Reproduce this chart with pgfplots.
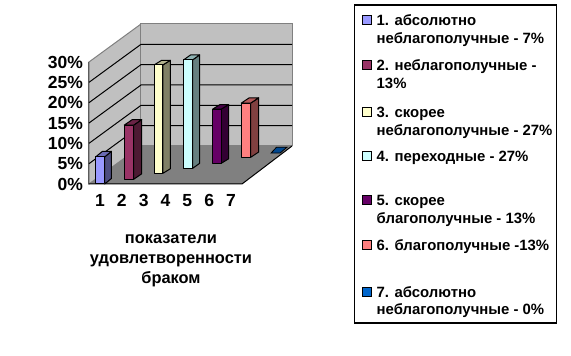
\documentclass[border=0pt]{standalone}
\usepackage{fontspec}
\setmainfont{Liberation Sans}
\usepackage{pgfplots}
\pgfplotsset{compat=1.18}
\definecolor{wall}{HTML}{C0C0C0}
\definecolor{floorc}{HTML}{808080}
\definecolor{edgec}{HTML}{808080}
\definecolor{aF}{HTML}{9999FF}\definecolor{aS}{HTML}{4D4D80}\definecolor{aT}{HTML}{6B6BB3}
\definecolor{bF}{HTML}{993366}\definecolor{bS}{HTML}{4D1A33}\definecolor{bT}{HTML}{6B2447}
\definecolor{cF}{HTML}{FFFFCC}\definecolor{cS}{HTML}{808066}\definecolor{cT}{HTML}{B3B38F}
\definecolor{dF}{HTML}{CCFFFF}\definecolor{dS}{HTML}{668080}\definecolor{dT}{HTML}{8FB3B3}
\definecolor{eF}{HTML}{660066}\definecolor{eS}{HTML}{330033}\definecolor{eT}{HTML}{470047}
\definecolor{fF}{HTML}{FF8080}\definecolor{fS}{HTML}{804040}\definecolor{fT}{HTML}{B35A5A}
\definecolor{gF}{HTML}{0066CC}\definecolor{gT}{HTML}{00478F}
% bar: left px, right px, base px above the front line, value %, depth dx px, depth dy px, front, side, top
\newcommand{\bari}[9]{%
  \pgfmathsetmacro\xa{(#1-89)/21.857}%
  \pgfmathsetmacro\xb{(#2-89)/21.857}%
  \pgfmathsetmacro\ya{#3/4.0667}%
  \pgfmathsetmacro\yb{\ya+#4}%
  \pgfmathsetmacro\xc{\xa+#5/21.857}%
  \pgfmathsetmacro\xd{\xb+#5/21.857}%
  \pgfmathsetmacro\yc{\ya+#6/4.0667}%
  \pgfmathsetmacro\yd{\yb+#6/4.0667}%
  \addplot[draw=black,line width=1pt,line join=round,fill=#8] coordinates {(\xb,\ya) (\xd,\yc) (\xd,\yd) (\xb,\yb)} -- cycle;
  \addplot[draw=black,line width=1pt,line join=round,fill=#9] coordinates {(\xa,\yb) (\xb,\yb) (\xd,\yd) (\xc,\yd)} -- cycle;
  \addplot[draw=black,line width=1pt,line join=round,fill=#7] coordinates {(\xa,\ya) (\xb,\ya) (\xb,\yb) (\xa,\yb)} -- cycle;
}
\newcommand{\legkey}[2]{\path[draw=black,line width=0.8pt,fill=#1] (362pt,{356pt-#2pt-4.5pt}) rectangle (371pt,{356pt-#2pt+4.5pt});}
\newcommand{\legline}[2]{\node[anchor=base west,inner sep=0pt,font=\fontsize{14.9}{14.9}\selectfont\bfseries] at (376.5pt,{356pt-#1pt-5.2pt}) {#2};}
\begin{document}
\begin{tikzpicture}[x=1pt,y=1pt]
\fill[white] (0pt,0pt) rectangle (571pt,356pt);
\begin{axis}[
  at={(89pt,172pt)},anchor=origin,
  scale only axis,width=153pt,height=122pt,
  xmin=0,xmax=7,ymin=0,ymax=30,
  clip=false,
  axis x line*=bottom,axis y line*=left,
  axis line style={black,line width=1pt,-},
  /pgf/number format/assume math mode=true,
  xtick={0.5,1.5,2.5,3.5,4.5,5.5,6.5},
  xticklabels={1,2,3,4,5,6,7},
  minor xtick={0,1,2,3,4,5,6,7},
  ytick={0,5,10,15,20,25,30},
  yticklabels={0\%,5\%,10\%,15\%,20\%,25\%,30\%},
  major tick length=3pt,
  minor tick length=3pt,
  x tick style={draw=none},
  minor x tick style={draw=black,line width=1pt},
  y tick style={black,line width=1pt},
  tick label style={font=\fontsize{17.5}{17.5}\selectfont\bfseries},
  xticklabel style={yshift=-7pt},
  yticklabel style={xshift=-2.5pt},
  xlabel={показатели\\удовлетворенности\\браком},
  xlabel style={at={(axis cs:3.75,-11.6)},anchor=north,align=center,font=\fontsize{16.4}{20}\selectfont\bfseries},
]
% walls and floor
\addplot[draw=edgec,line width=1pt,fill=wall] coordinates {(0,0) (2.379,9.344) (2.379,39.344) (0,30)} -- cycle;
\addplot[draw=edgec,line width=1pt,fill=wall] coordinates {(2.379,9.344) (9.288,9.344) (9.288,39.344) (2.379,39.344)} -- cycle;
\addplot[draw=none,fill=floorc] coordinates {(0,0) (7,0) (9.288,9.344) (2.379,9.344)} -- cycle;
% gridlines
\addplot[black,line width=1pt] coordinates {(0,5) (2.379,14.344) (9.288,14.344)};
\addplot[black,line width=1pt] coordinates {(0,10) (2.379,19.344) (9.288,19.344)};
\addplot[black,line width=1pt] coordinates {(0,15) (2.379,24.344) (9.288,24.344)};
\addplot[black,line width=1pt] coordinates {(0,20) (2.379,29.344) (9.288,29.344)};
\addplot[black,line width=1pt] coordinates {(0,25) (2.379,34.344) (9.288,34.344)};
\addplot[black,line width=1pt] coordinates {(0,0) (7,0) (9.288,9.344)};
% bars, back to front
\addplot[draw=black,line width=0.8pt,fill=gT] coordinates {(8.33,7.6) (8.74,7.6) (9.06,9.05) (8.58,9.05)} -- cycle;
\bari{241.3}{250.7}{26.7}{13.33}{8}{5.3}{fF}{fS}{fT}
\bari{212.7}{221.3}{20.7}{13.33}{7.3}{4.5}{eF}{eS}{eT}
\bari{183.7}{192.7}{15.7}{26.67}{7}{5}{dF}{dS}{dT}
\bari{154.3}{163}{10.7}{26.67}{7.3}{4.5}{cF}{cS}{cT}
\bari{124.3}{133.7}{4.7}{13.33}{8}{5.5}{bF}{bS}{bT}
\bari{95.7}{104.7}{0}{6.67}{6.7}{5.5}{aF}{aS}{aT}
\end{axis}
% legend
\draw[black,line width=1.2pt] (354.5pt,33pt) rectangle (556.5pt,351pt);
\legkey{aF}{20}
\legkey{bF}{65}
\legkey{cF}{112}
\legkey{dF}{156}
\legkey{eF}{200}
\legkey{fF}{245}
\legkey{gF}{292}
\legline{20}{1. абсолютно}
\legline{38}{неблагополучные - 7\%}
\legline{65}{2. неблагополучные -}
\legline{83}{13\%}
\legline{112}{3. скорее}
\legline{130}{неблагополучные - 27\%}
\legline{156}{4. переходные - 27\%}
\legline{200}{5. скорее}
\legline{218}{благополучные - 13\%}
\legline{245}{6. благополучные -13\%}
\legline{292}{7. абсолютно}
\legline{309}{неблагополучные - 0\%}
\end{tikzpicture}
\end{document}
